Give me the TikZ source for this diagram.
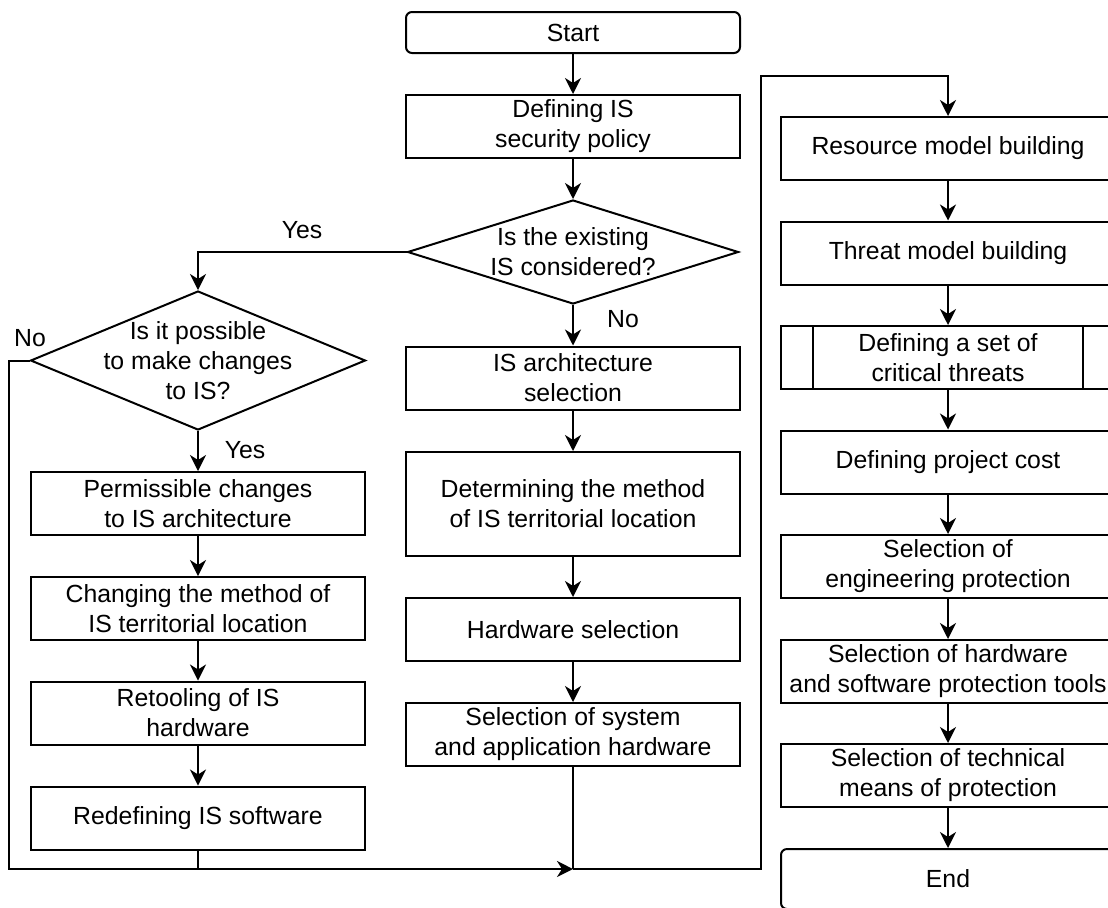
\documentclass[tikz,border=0pt]{standalone}
\usepackage{fontspec}
\setmainfont{Liberation Sans}
\usetikzlibrary{arrows.meta,shapes.geometric}

\tikzset{
  box/.style={draw,line width=1pt,minimum width=167pt,minimum height=31.5pt,inner sep=2pt,align=center},
  term/.style={box,rounded corners=3pt},
  decide/.style={draw,diamond,line width=1pt,inner sep=-4pt,align=center},
  arr/.style={line width=1pt,-{Stealth[length=8pt,width=8pt,inset=2.5pt]}},
  link/.style={line width=1pt}
}

\begin{document}
\begin{tikzpicture}[x=0.5pt,y=-0.5pt,every node/.style={font=\fontsize{12.4}{15}\selectfont}]
  \useasboundingbox (0,0) rectangle (1108,907);
  \clip (0,0) rectangle (1108,907);

  % middle column
  \node[term,minimum height=20.5pt] (start) at (573,32.5) {Start};
  \node[box] (policy) at (573,126.5) {Defining IS\\security policy};
  \node[decide,minimum width=165.5pt,minimum height=52pt,aspect=3.2] (exist) at (573,252) {Is the existing\\IS considered?};
  \node[box] (arch) at (573,378) {IS architecture\\selection};
  \node[box,minimum height=52pt] (terr) at (573,504) {Determining the method\\of IS territorial location};
  \node[box] (hwsel) at (573,629.5) {Hardware selection};
  \node[box] (sysapp) at (573,734.5) {Selection of system\\and application hardware};

  % left column
  \node[decide,minimum width=167.5pt,minimum height=69.5pt,aspect=2.4] (change) at (198,360.5) {Is it possible\\to make changes\\to IS?};
  \node[box] (perm) at (198,503.5) {Permissible changes\\to IS architecture};
  \node[box] (chmeth) at (198,608.5) {Changing the method of\\IS territorial location};
  \node[box] (retool) at (198,713) {Retooling of IS\\hardware};
  \node[box] (redef) at (198,818) {Redefining IS software};

  % right column
  \node[box] (resmod) at (948,148.5) {Resource model building};
  \node[box] (thrmod) at (948,253) {Threat model building};
  \node[box] (crit) at (948,357.5) {Defining a set of\\critical threats};
  \node[box] (cost) at (948,462) {Defining project cost};
  \node[box] (eng) at (948,566.5) {Selection of\\engineering protection};
  \node[box] (hwsw) at (948,671.5) {Selection of hardware\\and software protection tools};
  \node[box] (tech) at (948,775.5) {Selection of technical\\means of protection};
  \node[term,minimum height=30pt] (end) at (948,879) {End};

  % predefined process bars
  \draw[link] ([xshift=16.5pt]crit.north west) -- ([xshift=16.5pt]crit.south west);
  \draw[link] ([xshift=-16.5pt]crit.north east) -- ([xshift=-16.5pt]crit.south east);

  \foreach \a/\b in {start/policy,policy/exist,exist/arch,arch/terr,terr/hwsel,hwsel/sysapp,
    change/perm,perm/chmeth,chmeth/retool,retool/redef,
    resmod/thrmod,thrmod/crit,crit/cost,cost/eng,eng/hwsw,hwsw/tech,tech/end}
    \draw[arr] (\a) -- (\b);

  % branches and loop
  \coordinate (join) at (573,869);
  \coordinate (nocorner) at (9,869);
  \coordinate (loopbot) at (761,869);
  \coordinate (looptop) at (761,76);
  \draw[arr] (exist.west) -| (change.north);
  \draw[arr] (change.west) -| (nocorner) -- (join);
  \draw[link] (redef.south) -- (redef.south |- join);
  \draw[link] (sysapp.south) -- (join);
  \draw[arr] (join) -- (loopbot) -- (looptop) -| (resmod.north);

  \node (yesA) at (302,230) {Yes};
  \node (noA) at (623,319) {No};
  \node (noB) at (30,338) {No};
  \node (yesB) at (245,450) {Yes};
\end{tikzpicture}
\end{document}
